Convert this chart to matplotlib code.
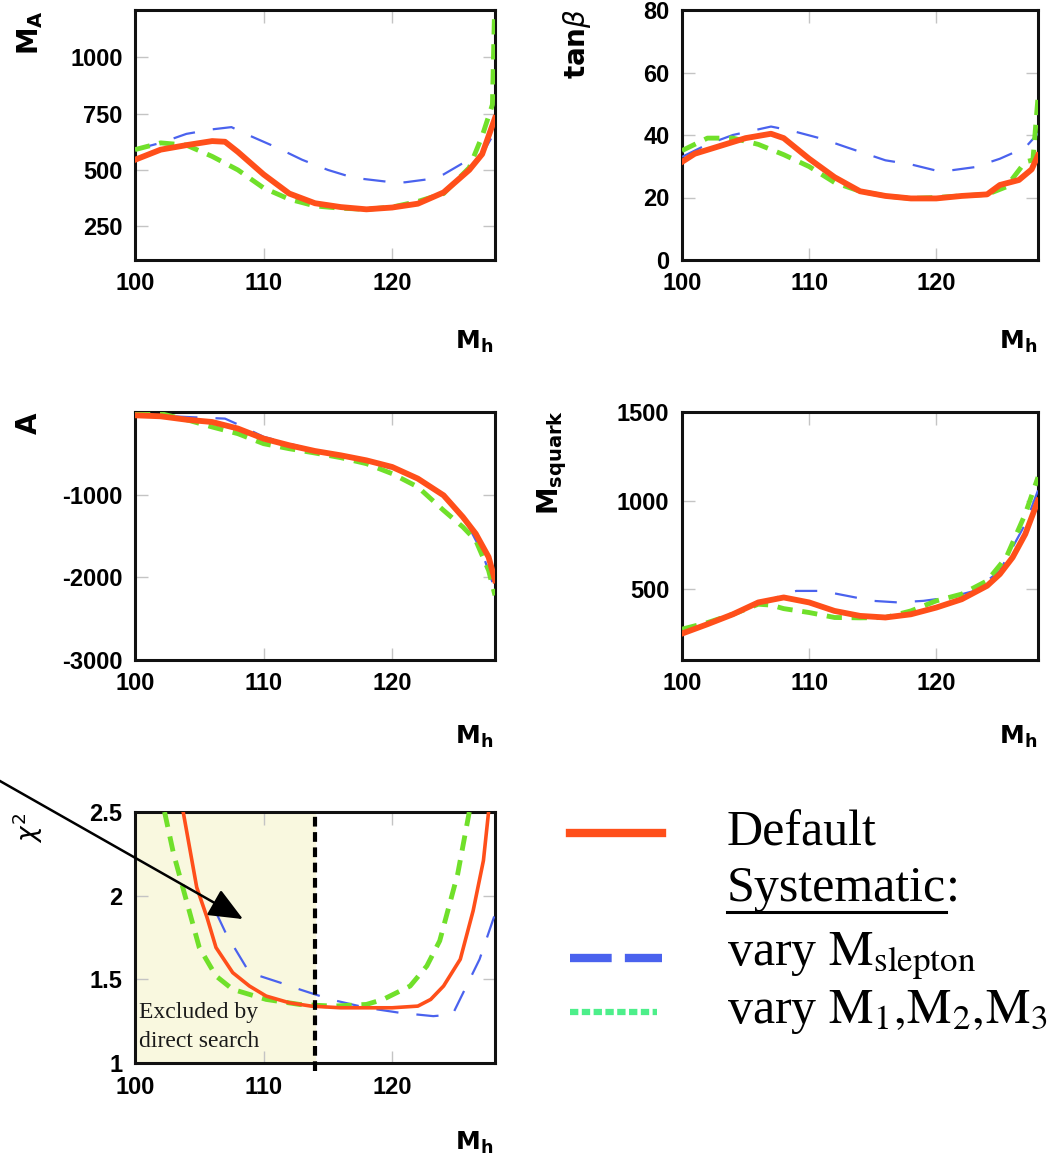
import matplotlib
matplotlib.use('Agg')
import matplotlib.pyplot as plt
from matplotlib.lines import Line2D

plt.rcParams['font.family'] = ['Liberation Sans', 'DejaVu Sans']
plt.rcParams['lines.scale_dashes'] = False
plt.rcParams['axes.unicode_minus'] = False

# --- M_A vs M_h
ma_def_x = [100, 102, 104, 106, 107, 108, 110, 112, 114, 116, 118, 120, 122, 124, 126, 127, 128]
ma_def_y = [545, 590, 610, 628, 625, 580, 480, 395, 352, 335, 325, 333, 350, 400, 500, 570, 730]
ma_slep_x = [100, 102, 104, 106, 107.5, 109, 111, 113, 115, 117, 120, 121, 123, 124, 125.5, 127, 128]
ma_slep_y = [590, 620, 660, 680, 690, 650, 600, 545, 500, 465, 445, 445, 460, 480, 530, 570, 670]
ma_gau_x = [100, 102, 104, 106, 108, 110, 112, 114, 116, 118, 120, 122, 124, 126, 127, 127.8, 128]
ma_gau_y = [590, 620, 610, 560, 500, 420, 370, 340, 330, 325, 335, 360, 395, 510, 650, 790, 1300]

# --- tan beta vs M_h
tb_def_x = [100, 101, 103, 105, 107, 108, 110, 112, 114, 116, 118, 120, 122, 124, 125, 126.5, 127.5, 128]
tb_def_y = [31.4, 34, 36.5, 39, 40.4, 39, 32.4, 26.5, 22, 20.5, 19.7, 19.7, 20.5, 21, 24, 25.6, 29, 33.5]
tb_slep_x = [100, 102, 104, 107, 108.5, 111, 113, 116, 118, 120, 121, 123, 125, 127, 128]
tb_slep_y = [33, 37, 40, 42.7, 41.5, 38.8, 36, 31.9, 30.6, 28.6, 28.6, 29.7, 32.4, 36, 40.5]
tb_gau_x = [100, 102, 104, 106, 108, 110, 112, 114, 116, 118, 120, 122, 124, 125.5, 127, 127.6, 128]
tb_gau_y = [35, 39, 39, 37, 33.7, 29.9, 24.8, 22, 20.5, 19.7, 20, 20.5, 21, 23.4, 31.4, 32, 52]

# --- A vs M_h
a_def_x = [100, 102, 104, 106, 108, 110, 112, 114, 116, 118, 120, 122, 124, 125.5, 126.5, 127.5, 128]
a_def_y = [-40, -52, -93, -121, -200, -322, -403, -472, -524, -585, -665, -806, -1008, -1270, -1472, -1754, -2036]
a_slep_x = [100, 104, 107, 108, 110, 114, 118, 122, 124, 125.5, 127, 128]
a_slep_y = [-30, -60, -80, -150, -300, -465, -580, -800, -990, -1250, -1700, -2150]
a_gau_x = [100, 102, 104, 106, 108, 110, 112, 114, 116, 118, 120, 122, 124, 125.5, 126.5, 127.5, 128]
a_gau_y = [-20, -20, -93, -181, -262, -383, -444, -496, -552, -625, -746, -907, -1190, -1391, -1552, -1915, -2218]

# --- M_squark vs M_h
sq_def_x = [100, 102, 104, 106, 108, 110, 112, 114, 116, 118, 120, 122, 124, 125, 126, 127, 128]
sq_def_y = [249, 302, 358, 425, 453, 425, 377, 349, 340, 358, 396, 443, 519, 585, 679, 811, 1000]
sq_slep_x = [100, 104, 107, 108, 109, 111, 113, 115, 117, 119, 121, 123, 125, 127, 128]
sq_slep_y = [249, 358, 440, 472, 490, 490, 462, 434, 425, 434, 453, 490, 604, 868, 1057]
sq_gau_x = [100, 102, 104, 106, 107, 108, 110, 112, 114, 116, 118, 120, 122, 124, 125.5, 127, 128]
sq_gau_y = [274, 311, 358, 415, 410, 390, 368, 340, 338, 340, 377, 434, 472, 547, 679, 925, 1132]

# --- chi2 vs M_h
chi_def_x = [103.75, 104.8, 105.6, 106.3, 107.6, 108.9, 110.2, 112, 113.7, 116, 118, 120, 122, 123, 124, 125.3, 126.3, 127.1, 127.5]
chi_def_y = [2.5, 2.05, 1.87, 1.69, 1.54, 1.46, 1.40, 1.36, 1.34, 1.33, 1.33, 1.33, 1.34, 1.38, 1.46, 1.62, 1.91, 2.21, 2.5]
chi_slep_x = [106.3, 107.1, 108.9, 111.3, 112.8, 115.2, 118, 120.6, 123.2, 124.7, 126.8, 128]
chi_slep_y = [1.9, 1.77, 1.54, 1.48, 1.44, 1.38, 1.33, 1.30, 1.28, 1.29, 1.62, 1.89]
chi_gau_x = [102.3, 103, 104, 105, 106.3, 107.6, 110.2, 112.8, 115.4, 118, 119.3, 121.4, 122.7, 123.7, 125.1, 126]
chi_gau_y = [2.5, 2.25, 1.97, 1.69, 1.52, 1.44, 1.38, 1.35, 1.34, 1.35, 1.38, 1.46, 1.58, 1.73, 2.13, 2.5]
lep_limit = 114

RED = '#ff4f1a'
BLUE = '#4a62ee'
GREEN = '#70e02a'

W, H = 1059, 1155
fig = plt.figure(figsize=(W / 100, H / 100), dpi=100)


def box(l, t, r, b):
    # pixel box -> figure fraction
    return [l / W, 1 - b / H, (r - l) / W, (b - t) / H]


def panel(rect, series, ylim, yticks, red_lw=4.2):
    ax = fig.add_axes(rect)
    (dx, dy), (sx, sy), (gx, gy) = series
    ax.plot(sx, sy, color=BLUE, lw=1.6, dashes=(16, 13), zorder=3)
    ax.plot(gx, gy, color=GREEN, lw=3.5, dashes=(11, 7), zorder=4)
    ax.plot(dx, dy, color=RED, lw=red_lw, zorder=5)
    ax.set_xlim(100, 128)
    ax.set_ylim(*ylim)
    ax.set_xticks([100, 110, 120])
    ax.set_yticks(yticks)
    ax.tick_params(direction='in', length=9, width=1, color='#c4c4c4',
                   top=True, right=True, labelsize=17, pad=9)
    for lab in ax.get_xticklabels() + ax.get_yticklabels():
        lab.set_fontweight('bold')
    for s in ax.spines.values():
        s.set_linewidth(2.2)
        s.set_color('#111111')
    return ax


ax1 = panel(box(135, 10, 495, 260),
            [(ma_def_x, ma_def_y), (ma_slep_x, ma_slep_y), (ma_gau_x, ma_gau_y)],
            (100, 1210), [250, 500, 750, 1000])
ax2 = panel(box(682, 10, 1038, 260),
            [(tb_def_x, tb_def_y), (tb_slep_x, tb_slep_y), (tb_gau_x, tb_gau_y)],
            (0, 80), [0, 20, 40, 60, 80])
ax3 = panel(box(135, 412, 495, 660),
            [(a_def_x, a_def_y), (a_slep_x, a_slep_y), (a_gau_x, a_gau_y)],
            (-3000, 0), [-3000, -2000, -1000])
ax4 = panel(box(682, 412, 1038, 660),
            [(sq_def_x, sq_def_y), (sq_slep_x, sq_slep_y), (sq_gau_x, sq_gau_y)],
            (100, 1500), [500, 1000, 1500])
ax5 = panel(box(135, 812, 495, 1063),
            [(chi_def_x, chi_def_y), (chi_slep_x, chi_slep_y), (chi_gau_x, chi_gau_y)],
            (1, 2.5), [1, 1.5, 2, 2.5], red_lw=2.6)
ax5.set_yticklabels(['1', '1.5', '2', '2.5'], fontweight='bold')

# excluded region
ax5.axvspan(100, lep_limit, color='#f9f8df', zorder=0)
ax5.axvline(lep_limit, ymin=-0.03, ymax=1, color='black', lw=3, dashes=(7, 4),
            clip_on=False, zorder=6)
exc_kw = dict(family='Liberation Serif', fontsize=17, color='#1a1a1a',
              ha='left', va='baseline', zorder=7)
ax5.text(100.3, 1.27, 'Excluded by', **exc_kw)
ax5.text(100.3, 1.095, 'direct search', **exc_kw)
ax5.annotate('', xy=(108.4, 1.86), xycoords='data',
             xytext=(-0.01, 1 - 775 / H), textcoords='figure fraction',
             arrowprops=dict(arrowstyle='-|>,head_length=0.7,head_width=0.3',
                             mutation_scale=30, color='black', lw=1.8,
                             shrinkA=0, shrinkB=0),
             annotation_clip=False, zorder=8)

# y-axis labels
lab_kw = dict(rotation=90, ha='center', va='center', fontsize=20)
fig.text(30 / W, 1 - 33 / H, r'$\mathbf{M_A}$', **lab_kw)
fig.text(577 / W, 1 - 44 / H, r'$\mathbf{tan}\beta$', **lab_kw)
fig.text(30 / W, 1 - 423 / H, r'$\mathbf{A}$', **lab_kw)
fig.text(552 / W, 1 - 462 / H, r'$\mathbf{M_{squark}}$', **lab_kw)
fig.text(28 / W, 1 - 828 / H, r'$\chi^2$', rotation=90, ha='center', va='center',
         fontsize=19)

# x-axis labels
for xr, yc in [(493, 342), (1037, 342), (493, 737), (1037, 737), (493, 1143)]:
    fig.text(xr / W, 1 - yc / H, r'$\mathbf{M_h}$', ha='right', va='center', fontsize=18)

# legend block
lax = fig.add_axes([0, 0, 1, 1])
lax.set_xlim(0, W)
lax.set_ylim(H, 0)
lax.axis('off')
lax.add_line(Line2D([570, 662], [833, 833], color=RED, lw=6))
lax.add_line(Line2D([570, 662], [958, 958], color=BLUE, lw=6, dashes=(30, 9.5)))
lax.add_line(Line2D([570, 657], [1012, 1012], color='#4def8a', lw=4.5, dashes=(6, 2.5)))

ser = dict(family='Liberation Serif', fontsize=36, va='baseline', ha='left',
           math_fontfamily='stix')
lax.text(727, 845, 'Default', **ser)
t_sys = lax.text(727, 901, 'Systematic', **ser)
lax.text(727, 965, r'vary $\mathrm{M}_{\mathrm{slepton}}$', **ser)
lax.text(727, 1023, r'vary $\mathrm{M}_1,\!\mathrm{M}_2,\!\mathrm{M}_3$', **ser)

fig.canvas.draw()
bb = t_sys.get_window_extent().transformed(lax.transData.inverted())
x0, x1 = min(bb.x0, bb.x1), max(bb.x0, bb.x1)
lax.text(x1, 901, ':', **ser)
lax.add_line(Line2D([x0, x1], [912, 912], color='black', lw=2.2))

fig.savefig('out.png', dpi=100)
